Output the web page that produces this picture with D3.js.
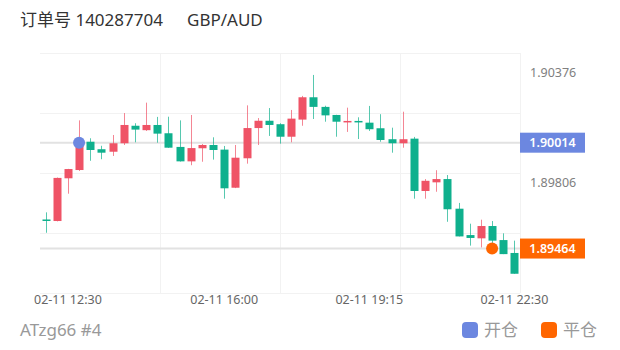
<!DOCTYPE html>
<html>
<head>
<meta charset="utf-8">
<script src="https://cdn.jsdelivr.net/npm/d3@7"></script>
<style>
  body { margin: 0; background: #fff; }
  svg { display: block; font-family: "Noto Sans", "Noto Sans CJK SC", sans-serif; }
</style>
</head>
<body>
<div id="chart"></div>
<script>
// 15 min candles, GBP/AUD
const times = ["12:00","12:15","12:30","12:45","13:00","13:15","13:30","13:45","14:00","14:15",
  "14:30","14:45","15:00","15:15","15:30","15:45","16:00","16:15","16:30","16:45",
  "17:00","17:15","17:30","17:45","18:00","18:15","18:30","18:45","19:00","19:15",
  "19:30","19:45","20:00","20:15","20:30","20:45","21:00","21:15","21:30","21:45",
  "22:00","22:15","22:30"];
const opens = [1.89615,1.89607,1.89829,1.89872,1.90019,1.89980,1.89967,1.90011,1.90102,1.90079,
  1.90106,1.90063,1.89992,1.89917,1.89985,1.90002,1.89978,1.89780,1.89933,1.90090,
  1.90128,1.90110,1.90045,1.90134,1.90250,1.90200,1.90158,1.90120,1.90127,1.90118,
  1.90089,1.90032,1.90011,1.90035,1.89763,1.89808,1.89825,1.89671,1.89534,1.89517,
  1.89581,1.89508,1.89441];
const highs = [1.89652,1.89833,1.89878,1.90130,1.90037,1.89998,1.90054,1.90168,1.90115,1.90222,
  1.90148,1.90149,1.90130,1.90158,1.90007,1.90042,1.89997,1.90002,1.90208,1.90142,
  1.90194,1.90115,1.90184,1.90257,1.90366,1.90206,1.90159,1.90196,1.90146,1.90205,
  1.90162,1.90092,1.90175,1.90044,1.89825,1.89871,1.89846,1.89701,1.89593,1.89614,
  1.89607,1.89543,1.89505];
const lows = [1.89546,1.89605,1.89749,1.89867,1.89920,1.89928,1.89945,1.90002,1.90016,1.90075,
  1.90014,1.89987,1.89916,1.89897,1.89915,1.89926,1.89723,1.89778,1.89905,1.90002,
  1.90049,1.90009,1.90016,1.90102,1.90137,1.90123,1.90045,1.90070,1.90033,1.90075,
  1.90019,1.89962,1.89988,1.89723,1.89723,1.89759,1.89603,1.89527,1.89479,1.89470,
  1.89477,1.89435,1.89333];
const closes = [1.89610,1.89831,1.89877,1.90012,1.89976,1.89962,1.90011,1.90106,1.90082,1.90106,
  1.90061,1.89988,1.89917,1.89986,1.90002,1.89976,1.89777,1.89936,1.90090,1.90128,
  1.90106,1.90045,1.90139,1.90250,1.90200,1.90156,1.90123,1.90127,1.90120,1.90084,
  1.90028,1.90011,1.90032,1.89763,1.89816,1.89825,1.89668,1.89527,1.89519,1.89581,
  1.89505,1.89435,1.89333];

const xTicks = ["12:30", "16:00", "19:15", "22:30"];
const yTicks = [1.90376, 1.89806];
const openTrade = { time: "12:45", price: 1.90014 };
const closeTrade = { time: "22:00", price: 1.89464 };

const w = 620;
const h = 350;
const plotLeft = 40;
const plotRight = 520;
const plotTop = 53;
const plotBottom = 293;
const up = "#ef5366";
const down = "#0fb08d";
const blue = "#6c87e0";
const orange = "#ff6600";

const candles = times.map((t, i) => ({
  t: t, o: opens[i], h: highs[i], l: lows[i], c: closes[i]
}));

const x = d3.scaleBand().domain(times).range([plotLeft, plotRight]);
const cx = (t) => x(t) + x.bandwidth() / 2;
const y = d3.scaleLinear().domain([1.89233, 1.90480]).range([plotBottom, plotTop]);

const svg = d3.select("#chart").append("svg").attr("width", w).attr("height", h);

// grid
const yDom = y.domain();
svg.selectAll(".hgrid")
  .data(d3.range(5).map((i) => yDom[0] + (yDom[1] - yDom[0]) * i / 4))
  .enter().append("line")
  .attr("x1", plotLeft).attr("x2", plotRight)
  .attr("y1", (d) => Math.round(y(d)) + 0.5).attr("y2", (d) => Math.round(y(d)) + 0.5)
  .attr("stroke", "#f2f2f2");
svg.selectAll(".vgrid")
  .data(d3.range(1, 5))
  .enter().append("line")
  .attr("x1", (d) => plotLeft + (plotRight - plotLeft) * d / 4 + 0.5)
  .attr("x2", (d) => plotLeft + (plotRight - plotLeft) * d / 4 + 0.5)
  .attr("y1", plotTop).attr("y2", plotBottom)
  .attr("stroke", "#f2f2f2");

// open / close price lines
[openTrade, closeTrade].forEach((p) => {
  svg.append("line")
    .attr("x1", plotLeft).attr("x2", plotRight)
    .attr("y1", y(p.price)).attr("y2", y(p.price))
    .attr("stroke", "#e2e2e2").attr("stroke-width", 2);
});

// candles
const g = svg.append("g");
const bodyW = 8;
g.selectAll(".wick")
  .data(candles)
  .enter().append("line")
  .attr("x1", (d) => Math.round(cx(d.t)) + 0.5).attr("x2", (d) => Math.round(cx(d.t)) + 0.5)
  .attr("y1", (d) => y(d.h)).attr("y2", (d) => y(d.l))
  .attr("stroke", (d) => (d.c >= d.o ? up : down))
  .attr("stroke-opacity", 0.7);
g.selectAll(".body")
  .data(candles)
  .enter().append("rect")
  .attr("x", (d) => Math.round(cx(d.t)) - bodyW / 2 + 0.5)
  .attr("width", bodyW)
  .attr("y", (d) => y(Math.max(d.o, d.c)))
  .attr("height", (d) => Math.max(1.5, Math.abs(y(d.o) - y(d.c))))
  .attr("fill", (d) => (d.c >= d.o ? up : down));

// trade markers
svg.append("circle").attr("cx", cx(openTrade.time)).attr("cy", y(openTrade.price))
  .attr("r", 6).attr("fill", blue);
svg.append("circle").attr("cx", cx(closeTrade.time)).attr("cy", y(closeTrade.price))
  .attr("r", 6).attr("fill", orange);

// y labels
svg.selectAll(".ylab")
  .data(yTicks)
  .enter().append("text")
  .attr("x", 530).attr("y", (d) => y(d))
  .attr("dy", "0.35em")
  .attr("font-size", 12.5).attr("fill", "#808080")
  .text((d) => d.toFixed(5));

// price tags
[[openTrade, blue], [closeTrade, orange]].forEach(([p, col]) => {
  svg.append("rect").attr("x", plotRight).attr("y", y(p.price) - 10)
    .attr("width", 65).attr("height", 20).attr("fill", col);
  svg.append("text").attr("x", plotRight + 32.5).attr("y", y(p.price)).attr("dy", "0.36em")
    .attr("text-anchor", "middle").attr("font-size", 12.5).attr("font-weight", 600)
    .attr("fill", "#fff").text(p.price.toFixed(5));
});

// x labels
svg.selectAll(".xlab")
  .data(xTicks)
  .enter().append("text")
  .attr("x", (d) => cx(d)).attr("y", 304)
  .attr("text-anchor", "middle")
  .attr("font-size", 12.5).attr("fill", "#666")
  .text((d) => "02-11 " + d);

// title
svg.append("text").attr("x", 20).attr("y", 26).attr("font-size", 17).attr("fill", "#333")
  .text("订单号 140287704");
svg.append("text").attr("x", 187).attr("y", 26).attr("font-size", 17).attr("fill", "#333")
  .text("GBP/AUD");

// footer
svg.append("text").attr("x", 20).attr("y", 336).attr("font-size", 17).attr("fill", "#999")
  .text("ATzg66 #4");

const legend = [["开仓", blue, 462], ["平仓", orange, 541]];
legend.forEach(([name, col, lx]) => {
  svg.append("rect").attr("x", lx).attr("y", 322).attr("width", 16).attr("height", 16)
    .attr("rx", 4).attr("fill", col);
  svg.append("text").attr("x", lx + 22).attr("y", 336).attr("font-size", 17).attr("fill", "#999")
    .text(name);
});
</script>
</body>
</html>
